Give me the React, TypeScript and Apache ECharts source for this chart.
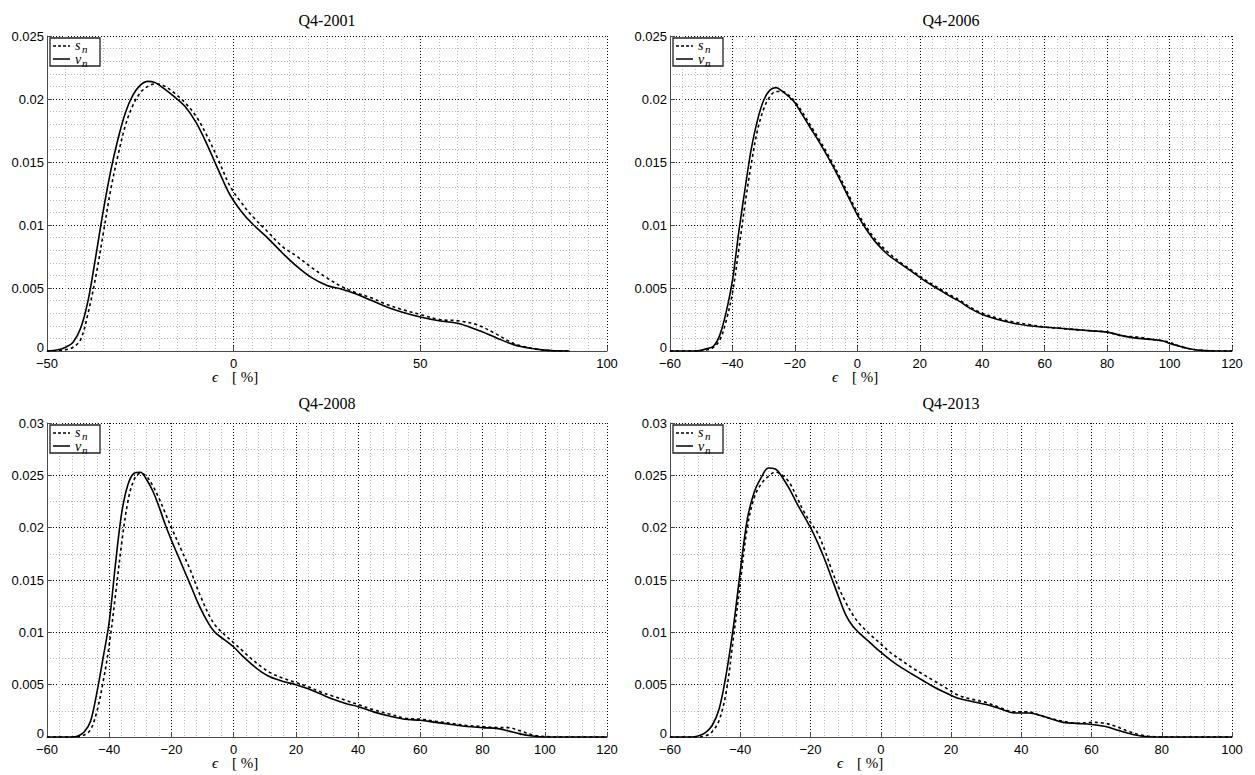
import React, { useEffect, useRef } from "react";
import * as echarts from "echarts";

const titles = ["Q4-2001", "Q4-2006", "Q4-2008", "Q4-2013"];
const seriesNames = ["s_n", "v_n"];

// Q4-2001
const x2001 = [-50, -47, -45, -43, -41, -39, -37, -35, -33, -31, -29, -27, -25, -23, -21, -19, -16, -13, -10, -7, -4, -1, 2, 5, 9, 13, 17, 21, 25, 29, 33, 37, 41, 45, 50, 55, 60, 65, 70, 75, 80, 85, 90];
const v2001 = [0, 0.0001, 0.0003, 0.0007, 0.0018, 0.004, 0.0074, 0.011, 0.0142, 0.0168, 0.0189, 0.0203, 0.0211, 0.0214, 0.0213, 0.0209, 0.0202, 0.0194, 0.0181, 0.0163, 0.0143, 0.0124, 0.0111, 0.0101, 0.009, 0.0078, 0.0067, 0.0058, 0.0052, 0.0049, 0.0045, 0.004, 0.0035, 0.0031, 0.0027, 0.0024, 0.0022, 0.0017, 0.0011, 0.0005, 0.0002, 0.00003, 0];
const s2001 = [0, 0.00003, 0.0001, 0.0003, 0.0009, 0.003, 0.0058, 0.0092, 0.0127, 0.0155, 0.0179, 0.0195, 0.0205, 0.021, 0.0212, 0.0211, 0.0205, 0.0197, 0.0186, 0.017, 0.0151, 0.0131, 0.0118, 0.0107, 0.0095, 0.0083, 0.0075, 0.0066, 0.0058, 0.0051, 0.0046, 0.0042, 0.0037, 0.0033, 0.0029, 0.0025, 0.0024, 0.0021, 0.0014, 0.0006, 0.0002, 0.00003, 0];

// Q4-2006
const x2006 = [-60, -52, -50, -48, -46, -44, -42, -40, -38, -36, -34, -32, -30, -28, -26, -24, -22, -20, -18, -15, -12, -9, -6, -3, 0, 3, 6, 10, 14, 18, 22, 26, 30, 33, 36, 40, 45, 50, 55, 60, 65, 70, 75, 80, 85, 90, 95, 98, 100, 103, 106, 110, 115, 120];
const v2006 = [0, 0, 0.00005, 0.0002, 0.0004, 0.0013, 0.0031, 0.0056, 0.0094, 0.0128, 0.016, 0.0183, 0.0199, 0.0207, 0.0209, 0.0206, 0.0202, 0.0197, 0.0189, 0.0177, 0.0165, 0.0152, 0.0138, 0.0123, 0.0108, 0.0096, 0.0086, 0.0076, 0.0069, 0.0062, 0.0055, 0.0049, 0.0043, 0.0039, 0.0034, 0.0029, 0.0025, 0.0022, 0.002, 0.0019, 0.0018, 0.0017, 0.0016, 0.0015, 0.0012, 0.001, 0.0009, 0.0008, 0.0006, 0.0004, 0.0002, 0.00005, 0, 0];
const s2006 = [0, 0, 0.00003, 0.0001, 0.0003, 0.0009, 0.0024, 0.0046, 0.008, 0.0116, 0.0148, 0.0175, 0.0192, 0.0202, 0.0206, 0.0206, 0.0203, 0.0198, 0.0191, 0.0179, 0.0167, 0.0154, 0.014, 0.0125, 0.011, 0.0098, 0.0088, 0.0078, 0.007, 0.0063, 0.0056, 0.005, 0.0044, 0.004, 0.0035, 0.003, 0.0026, 0.0023, 0.0021, 0.0019, 0.0018, 0.0017, 0.0016, 0.0015, 0.0012, 0.0011, 0.0009, 0.0008, 0.0007, 0.0004, 0.0002, 0.00006, 0, 0];

// Q4-2008
const x2008 = [-60, -52, -50, -48, -46, -44, -42, -40, -38, -36, -34, -32, -30, -28, -26, -24, -22, -20, -17, -14, -11, -8, -6, -3, 0, 3, 6, 9, 12, 16, 20, 24, 28, 32, 36, 40, 45, 50, 55, 60, 65, 70, 75, 80, 85, 88, 92, 96, 100, 104, 120];
const v2008 = [0, 0, 0.0001, 0.0005, 0.0015, 0.0042, 0.0075, 0.011, 0.0165, 0.0214, 0.0241, 0.0252, 0.0253, 0.0246, 0.0235, 0.022, 0.0203, 0.0188, 0.0167, 0.0146, 0.0125, 0.0108, 0.01, 0.0093, 0.0086, 0.0077, 0.0069, 0.0062, 0.0057, 0.0053, 0.005, 0.0046, 0.0041, 0.0036, 0.0032, 0.0029, 0.0024, 0.002, 0.0017, 0.0016, 0.0014, 0.0012, 0.001, 0.0009, 0.0008, 0.0006, 0.0003, 0.0001, 0, 0, 0];
const s2008 = [0, 0, 0.00003, 0.0002, 0.0007, 0.0024, 0.0052, 0.0088, 0.0135, 0.0185, 0.0225, 0.0246, 0.0252, 0.0249, 0.024, 0.0228, 0.0214, 0.02, 0.018, 0.016, 0.0137, 0.0117, 0.0107, 0.0098, 0.009, 0.0082, 0.0074, 0.0067, 0.0061, 0.0056, 0.0052, 0.0048, 0.0043, 0.0039, 0.0035, 0.0031, 0.0026, 0.0022, 0.0018, 0.0017, 0.0015, 0.0013, 0.0011, 0.001, 0.0009, 0.0009, 0.0006, 0.0002, 0.00005, 0, 0];

// Q4-2013
const x2013 = [-60, -54, -52, -50, -48, -46, -44, -42, -40, -38, -36, -34, -32, -30, -28, -26, -24, -22, -20, -18, -16, -14, -12, -10, -8, -6, -3, 0, 3, 6, 9, 12, 15, 18, 22, 26, 30, 34, 38, 42, 45, 48, 52, 56, 60, 64, 67, 70, 74, 78, 82, 100];
const v2013 = [0, 0, 0.0001, 0.0004, 0.0011, 0.0027, 0.006, 0.0104, 0.0158, 0.0208, 0.0234, 0.0248, 0.0257, 0.0256, 0.0248, 0.0237, 0.0224, 0.0212, 0.02, 0.0186, 0.017, 0.0152, 0.0134, 0.0117, 0.0106, 0.0099, 0.009, 0.0081, 0.0073, 0.0066, 0.006, 0.0054, 0.0048, 0.0043, 0.0037, 0.0034, 0.0031, 0.0027, 0.0023, 0.0023, 0.0021, 0.0018, 0.0014, 0.0013, 0.0012, 0.001, 0.0007, 0.0004, 0.0001, 0, 0, 0];
const s2013 = [0, 0, 0, 0.0001, 0.0005, 0.0016, 0.0043, 0.0093, 0.0147, 0.02, 0.0229, 0.0242, 0.0249, 0.0253, 0.025, 0.0243, 0.023, 0.0216, 0.0205, 0.0195, 0.0179, 0.016, 0.0143, 0.0129, 0.0117, 0.0108, 0.0098, 0.0089, 0.008, 0.0073, 0.0066, 0.006, 0.0054, 0.0048, 0.004, 0.0036, 0.0033, 0.0028, 0.0024, 0.0024, 0.0021, 0.0018, 0.0015, 0.0013, 0.0014, 0.0013, 0.001, 0.0006, 0.0002, 0.00003, 0, 0];

const xRanges = [
  [-50, 100, 50, 10],
  [-60, 120, 20, 5],
  [-60, 120, 20, 5],
  [-60, 100, 20, 5],
];
const yRanges = [
  [0, 0.025, 0.005, 5],
  [0, 0.025, 0.005, 5],
  [0, 0.03, 0.005, 2],
  [0, 0.03, 0.005, 2],
];
const panelXs = [x2001, x2006, x2008, x2013];
const panelS = [s2001, s2006, s2008, s2013];
const panelV = [v2001, v2006, v2008, v2013];

const grids = [
  { left: 47, top: 36, width: 560, height: 315 },
  { left: 670, top: 36, width: 562, height: 315 },
  { left: 47, top: 423, width: 560, height: 314 },
  { left: 670, top: 423, width: 562, height: 314 },
];
const labelPos = [
  [212, 377, 327, 20],
  [832, 377, 951, 20],
  [212, 763, 327, 403],
  [837, 763, 951, 403],
];

const SERIF = "'Liberation Serif', 'DejaVu Serif', serif";
const SANS = "'Liberation Sans', Arial, sans-serif";

function pairs(xs: number[], ys: number[]) {
  return xs.map((x, i) => [x, ys[i]]);
}

function buildOption() {
  const xAxis: any[] = [];
  const yAxis: any[] = [];
  const series: any[] = [];
  const graphic: any[] = [];
  grids.forEach((g, i) => {
    const [xmin, xmax, xint, xsplit] = xRanges[i];
    const [ymin, ymax, yint, ysplit] = yRanges[i];
    const common = {
      axisLine: { show: true, onZero: false, lineStyle: { color: "#4a4a4a", width: 1 } },
      axisTick: { show: true, inside: true, length: 5, lineStyle: { color: "#4a4a4a" } },
      splitLine: { show: true, lineStyle: { color: "#000", width: 1, type: [1, 2] } },
      minorSplitLine: { show: true, lineStyle: { color: "#b8b8b8", width: 1, type: [1, 2] } },
    };
    xAxis.push({
      type: "value",
      gridIndex: i,
      min: xmin,
      max: xmax,
      interval: xint,
      ...common,
      minorTick: { show: false, splitNumber: xsplit },
      axisLabel: {
        color: "#000",
        fontFamily: SANS,
        fontSize: 13,
        margin: 6,
        formatter: (v: number) => String(v).replace("-", "\u2212"),
      },
    });
    yAxis.push({
      type: "value",
      gridIndex: i,
      min: ymin,
      max: ymax,
      interval: yint,
      ...common,
      minorTick: { show: false, splitNumber: ysplit },
      axisLabel: {
        color: "#000",
        fontFamily: SANS,
        fontSize: 13,
        margin: 3,
        formatter: (v: number) => (v === 0 ? "{z|0}" : String(v)),
        rich: { z: { fontFamily: SANS, fontSize: 13, color: "#000", padding: [0, 0, 8, 0] } },
      },
    });
    series.push({
      type: "line",
      name: seriesNames[0],
      xAxisIndex: i,
      yAxisIndex: i,
      data: pairs(panelXs[i], panelS[i]),
      smooth: 0.35,
      showSymbol: false,
      symbol: "none",
      lineStyle: { color: "#000", width: 1.6, type: [3, 3] },
      z: 3,
    });
    series.push({
      type: "line",
      name: seriesNames[1],
      xAxisIndex: i,
      yAxisIndex: i,
      data: pairs(panelXs[i], panelV[i]),
      smooth: 0.35,
      showSymbol: false,
      symbol: "none",
      lineStyle: { color: "#000", width: 1.6 },
      z: 4,
    });

    const [lx, ly, tx, ty] = labelPos[i];
    graphic.push({
      type: "text",
      x: tx,
      y: ty,
      style: { text: titles[i], fontFamily: SERIF, fontSize: 16, fill: "#000", align: "center", verticalAlign: "middle" },
      z: 100,
    });
    graphic.push({
      type: "text",
      x: lx,
      y: ly,
      style: {
        text: "{e|\u03f5}{b|[ %]}",
        fontFamily: SERIF,
        fontSize: 15,
        fill: "#000",
        align: "left",
        verticalAlign: "middle",
        rich: {
          e: { fontFamily: SERIF, fontStyle: "italic", fontSize: 15, width: 20 },
          b: { fontFamily: SERIF, fontSize: 15 },
        },
      },
      z: 100,
    });

    // legend box
    const bx = g.left + 3;
    const by = g.top + 2;
    graphic.push({
      type: "rect",
      shape: { x: bx, y: by, width: 50, height: 28 },
      style: { fill: "#fff", stroke: "#222", lineWidth: 1.3 },
      z: 100,
    });
    graphic.push({
      type: "line",
      shape: { x1: bx + 3, y1: by + 8, x2: bx + 20, y2: by + 8 },
      style: { stroke: "#000", lineWidth: 1.5, lineDash: [3, 2] },
      z: 101,
    });
    graphic.push({
      type: "line",
      shape: { x1: bx + 3, y1: by + 21, x2: bx + 20, y2: by + 21 },
      style: { stroke: "#000", lineWidth: 1.5 },
      z: 101,
    });
    const letters = [["s", by + 7], ["v", by + 21]] as const;
    letters.forEach(([ch, yy]) => {
      graphic.push({
        type: "text",
        x: bx + 25,
        y: yy,
        style: { text: ch, fontFamily: SERIF, fontStyle: "italic", fontSize: 14, fill: "#000", align: "left", verticalAlign: "middle" },
        z: 101,
      });
      graphic.push({
        type: "text",
        x: bx + 32,
        y: (yy as number) + 4,
        style: { text: "n", fontFamily: SERIF, fontStyle: "italic", fontSize: 11, fill: "#000", align: "left", verticalAlign: "middle" },
        z: 101,
      });
    });
  });

  return {
    animation: false,
    backgroundColor: "#fff",
    grid: grids.map((g) => ({ ...g, containLabel: false })),
    xAxis,
    yAxis,
    series,
    graphic,
  };
}

export default function App() {
  const ref = useRef<HTMLDivElement>(null);
  useEffect(() => {
    if (!ref.current) return;
    const chart = echarts.init(ref.current, undefined, { renderer: "svg" });
    chart.setOption(buildOption() as any);
    return () => chart.dispose();
  }, []);
  return (
    <div
      ref={ref}
      style={{ position: "fixed", left: 0, top: 0, width: 1255, height: 775, background: "#fff" }}
    />
  );
}
